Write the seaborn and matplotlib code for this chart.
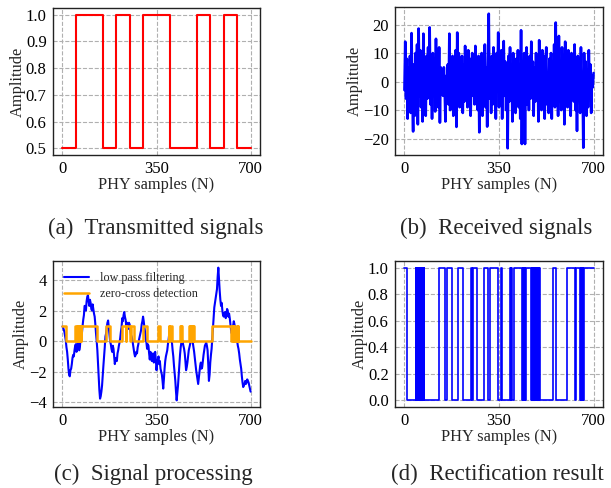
import numpy as np
import pandas as pd
import matplotlib
matplotlib.use("Agg")
import matplotlib.pyplot as plt
import seaborn as sns

# ---------------- data ----------------
# (a) transmitted signal: edge positions and levels (step, post)
a_x = [0, 50, 150, 200, 250, 300, 400, 500, 550, 600, 650, 700]
a_y = [0.5, 1.0, 0.5, 1.0, 0.5, 1.0, 0.5, 1.0, 0.5, 1.0, 0.5, 0.5]

# (b) received signal (241 samples spanning 0..700)
b_y = [
    -3, 14, -6, 8, -13, 5, -9, 9, -11, 17, -4, -17.5, 6, -12, 10, -8, 13, -15, 18.6, -5, 11, -9, 4, -14,
    16.8, -10, 7, -12, 9, -6, 12, -3, 19, -8, 6, -13, 10, -4, 8, -10.5, 15, -7, 3, -9, 12, -14.4, 5, -2,
    3, -5, 5, -2, -14, 2, -4, 6, -8, 16.8, -10, 4, -6, 9, -12, 7, -3, 11, -15.9, 17.2, -6, 10, -9, 8,
    -4, 9, -11, 6, -7, 12.5, -2, 5, -9, 11, -6, 8, -12, 3, 10, -5, 7, -8, 12.5, -3, 6, -10, 9, -17.8,
    4, -7, 10, -12, 7, -4, 13, -9, 5, -15.8, 8, 23.8, -6, 3, -11, 9, -8, 12, -4, 6, -13, 10, -2, 17.2,
    -9, 5, -6, 11, -13, 8, 14.2, -5, 7, -10, 3, -23.4, 9, -7, 12, -4, 6, -14, 10, -8, 4, -11, 8, -3,
    11, -9, 6, -13, 18, -21.9, 7, -5, 10, -21.9, 4, 12, -8, 3, -10, 9, -6, 14, -4, 7, -12, 5, -7, 10,
    -3, 8, -14, 14.5, -6, 4, -10, 11, -5, 9, -13, 6, 12, -8, 3, -11, 8, -4, 10, -13, 7, -6, 13, -9,
    20.7, -5, 9, -12, 16, -7, 6, -10, 12, -3, 8, -15, 14, -6, 4, -9, 11, -8, 7, -12, 10, -4, 6, -7,
    13, -10, 5, -17.3, 9, -4, 8, -11, 12, -6, 3, -23.2, 10, -5, 7, -12, 4, -9, 11, -3, 6, -11, 2, -2,
    3,
]
b_x = np.linspace(0, 700, len(b_y))

# (c) low pass filtered signal (281 samples spanning 0..700)
c_lp = [
    0.96, 0.9, 0.75, 0.6, 0.3, 0.05, -0.4, -0.7, -1.2, -1.8,
    -2.2, -2.3, -1.9, -1.8, -1.5, -1.1, -0.9, -1.0, -0.6, -0.3,
    -0.2, -0.7, -0.5, 0.0, -0.1, -0.6, -0.4, 0.2, 0.3, 0.5,
    1.0, 1.4, 1.7, 2.3, 2.3, 2.0, 2.6, 2.9, 3.0, 2.6,
    2.3, 2.7, 2.5, 2.1, 2.0, 2.4, 2.1, 1.8, 1.6, 1.1,
    0.5, 0.0, -0.6, -1.5, -2.4, -3.2, -3.76, -3.6, -3.3, -2.9,
    -2.2, -1.6, -1.0, -0.4, 0.3, 0.5, 0.9, 1.2, 1.35, 0.9,
    0.5, 0.0, -0.2, -0.5, -0.7, -0.3, -0.5, -1.0, -1.5, -1.2,
    -1.1, -1.3, -0.8, -0.6, -0.3, -0.1, 0.2, 0.6, 0.9, 1.5,
    1.3, 1.7, 1.9, 1.6, 1.4, 1.0, 1.2, 0.8, 0.8, 1.2,
    1.1, 0.7, 0.4, 0.3, 0.1, -0.2, -0.5, -0.8, -1.0, -0.9,
    -0.7, -0.8, -0.4, -0.2, 0.1, 0.3, 0.5, 0.7, 1.1, 1.3,
    1.6, 1.3, 0.9, 0.6, 0.2, -0.1, -0.5, -0.2, -0.3, -0.8,
    -1.2, -0.7, -0.9, -1.3, -1.0, -0.8, -1.4, -1.1, -0.7, -1.2,
    -1.9, -1.5, -1.2, -1.0, -1.5, -1.3, -1.8, -2.0, -2.2, -2.6,
    -3.1, -2.5, -1.8, -1.3, -1.0, -0.8, -0.6, -0.2, 0.1, 0.5,
    0.8, 0.6, 0.3, -0.1, -0.6, -1.0, -1.6, -2.1, -2.6, -3.3,
    -3.87, -3.4, -2.9, -2.2, -1.5, -0.9, -0.4, -0.1, 0.1, -0.1,
    -0.3, -0.5, -0.8, -1.3, -1.9, -1.7, -1.4, -1.0, -0.6, -0.4,
    -0.2, 0.0, 0.1, 0.2, -0.1, -0.4, -0.7, -1.1, -1.5, -1.9,
    -2.2, -2.5, -2.8, -2.4, -2.0, -1.6, -1.4, -1.8, -1.7, -1.3,
    -0.9, -0.6, -0.3, -0.2, -0.1, -0.3, -0.6, -1.5, -2.6, -2.2,
    -1.4, -0.9, -0.5, 0.2, 0.9, 1.6, 2.2, 2.5, 2.8, 3.1,
    3.4, 4.2, 4.8, 4.0, 3.3, 2.7, 2.3, 2.5, 2.0, 1.7,
    1.6, 1.8, 1.9, 1.5, 1.7, 2.1, 2.0, 1.6, 1.8, 1.5,
    1.1, 0.7, 0.5, 0.8, 1.0, 1.3, 1.1, 0.7, 0.4, 0.2,
    0.0, -0.3, -0.5, -0.8, -1.2, -1.5, -1.8, -2.3, -2.7, -3.0,
    -2.9, -2.8, -2.6, -2.8, -2.7, -2.5, -2.6, -2.7, -2.9, -3.1,
    -3.3,
]
c_x = np.linspace(0, 700, len(c_lp))

# (c) zero-cross detection edges (step, post)
c_zc_x = [0, 13, 46, 50, 53, 57, 59, 62, 65, 68, 70, 127, 162, 176, 221, 235, 238, 252, 254, 265,
          298, 315, 356, 364, 395, 398, 400, 407, 437, 440, 442, 446, 470, 473, 475, 478, 480, 484,
          486, 490, 558, 628, 631, 634, 637, 640, 645, 648, 652, 655, 663, 700]
c_zc_y = [1, 0, 1, 0, 1, 0, 1, 0, 1, 0, 1, 0, 1, 0, 1, 0, 1, 0, 1, 0,
          1, 0, 1, 0, 1, 0, 1, 0, 1, 0, 1, 0, 1, 0, 1, 0, 1, 0,
          1, 0, 1, 0, 1, 0, 1, 0, 1, 0, 1, 0, 0, 0]

# (d) rectification result edges (step, post)
d_x = [0, 10, 41, 43, 45, 47, 49, 51, 53, 55, 57, 58, 60, 62, 64, 66, 68, 70, 72, 74,
       128, 149, 158, 175, 200, 215, 245, 250, 252, 267, 296, 309, 315, 348, 359, 362,
       391, 393, 395, 398, 406, 436, 438, 440, 442, 444, 446, 448, 450, 469, 471, 473, 475,
       477, 479, 481, 483, 485, 487, 489, 491, 493, 495, 497, 499, 501, 551, 560, 600, 631,
       636, 650, 652, 654, 656, 658, 660, 662, 663, 700]
d_y = [1, 0, 1, 0, 1, 0, 1, 0, 1, 0, 1, 0, 1, 0, 1, 0, 1, 0, 1, 0,
       1, 0, 1, 0, 1, 0, 1, 0, 1, 0, 1, 0, 1, 0, 1, 0,
       1, 0, 1, 0, 1, 0, 1, 0, 1, 0, 1, 0, 1, 0, 1, 0, 1,
       0, 1, 0, 1, 0, 1, 0, 1, 0, 1, 0, 1, 0, 1, 0, 1, 0,
       1, 0, 1, 0, 1, 0, 1, 0, 1, 1]

x_ticks = [0, 350, 700]
captions = ["(a)  Transmitted signals", "(b)  Received signals",
            "(c)  Signal processing", "(d)  Rectification result"]

# ---------------- style ----------------
sns.set_style("whitegrid")
plt.rcParams['font.family'] = ['Liberation Serif', 'DejaVu Serif']
plt.rcParams['axes.unicode_minus'] = True
FS_TICK = 12
FS_LAB = 11.8
FS_CAP = 16.5

fig = plt.figure(figsize=(6.11, 4.88), dpi=100)
W, H = 611, 488


def make_ax(l, r, t, b):
    return fig.add_axes([l / W, 1 - b / H, (r - l) / W, (b - t) / H])


ax_a = make_ax(53, 260, 8, 155)
ax_b = make_ax(395, 603, 7, 155)
ax_c = make_ax(53, 260, 261, 407)
ax_d = make_ax(395, 603, 261, 407)

sns.lineplot(x=a_x, y=a_y, ax=ax_a, color="#ff0000", lw=1.5, drawstyle="steps-post", sort=False)
sns.lineplot(x=b_x, y=b_y, ax=ax_b, color="#0000ff", lw=1.9, sort=False)
sns.lineplot(x=c_x, y=c_lp, ax=ax_c, color="#0000ff", lw=1.5, sort=False, label="low pass filtering")
sns.lineplot(x=c_zc_x, y=c_zc_y, ax=ax_c, color="orange", lw=1.8, drawstyle="steps-post", sort=False,
             label="zero-cross detection")
sns.lineplot(x=d_x, y=d_y, ax=ax_d, color="#0000ff", lw=1.2, drawstyle="steps-post", sort=False)

ax_a.set_yticks([0.5, 0.6, 0.7, 0.8, 0.9, 1.0])
ax_b.set_yticks([-20, -10, 0, 10, 20])
ax_c.set_yticks([-4, -2, 0, 2, 4])
ax_d.set_yticks([0.0, 0.2, 0.4, 0.6, 0.8, 1.0])

for ax in (ax_a, ax_b, ax_c, ax_d):
    ax.set_xticks(x_ticks)
    ax.set_xlim(-35, 735)
    ax.grid(True, linestyle="--", color="#b0b0b0", linewidth=0.8)
    for s in ax.spines.values():
        s.set_color("#222222")
        s.set_linewidth(1.0)
    ax.tick_params(axis="both", labelsize=FS_TICK, length=3, width=0.8, color="#222222",
                   direction="out", pad=1.5, labelcolor="black")
    ax.set_xlabel("PHY samples (N)", fontsize=FS_LAB, labelpad=0)
    ax.set_ylabel("Amplitude", fontsize=FS_LAB, labelpad=0)
    ax.yaxis.set_major_formatter(matplotlib.ticker.ScalarFormatter())

ax_a.yaxis.set_major_formatter(matplotlib.ticker.FormatStrFormatter("%.1f"))
ax_d.yaxis.set_major_formatter(matplotlib.ticker.FormatStrFormatter("%.1f"))

leg = ax_c.legend(loc="upper left", frameon=False, fontsize=8.7, handlelength=2.1,
                  borderaxespad=0.5, labelspacing=0.35, handletextpad=0.9)

fig.text(156 / W, 1 - 228 / H, captions[0], ha="center", va="center", fontsize=FS_CAP)
fig.text(496 / W, 1 - 228 / H, captions[1], ha="center", va="center", fontsize=FS_CAP)
fig.text(153 / W, 1 - 474 / H, captions[2], ha="center", va="center", fontsize=FS_CAP)
fig.text(497 / W, 1 - 474 / H, captions[3], ha="center", va="center", fontsize=FS_CAP)

fig.savefig("out.png", dpi=100)
